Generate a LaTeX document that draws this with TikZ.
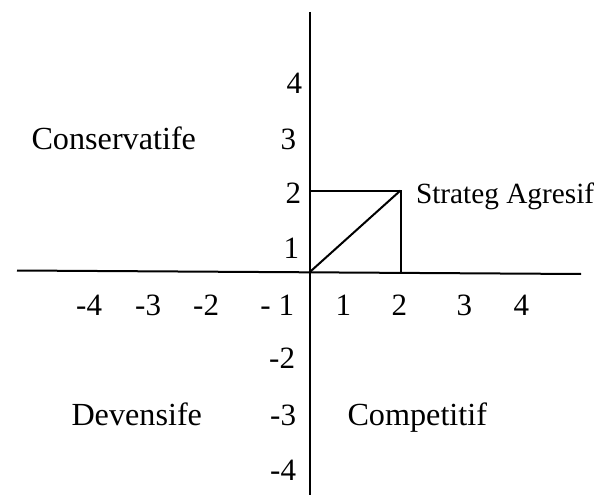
\documentclass[tikz,border=0pt]{standalone}
\usepackage{fontspec}
\setmainfont{Liberation Serif}
\begin{document}
\begin{tikzpicture}[x=1pt,y=-1pt,line width=2pt,
  num/.style={font=\fontsize{31}{31}\selectfont,inner sep=0pt,anchor=base east},
  quadlbl/.style={font=\fontsize{32.2}{33}\selectfont,inner sep=0pt,anchor=base west},
  smalllbl/.style={font=\fontsize{29.3}{30}\selectfont,inner sep=0pt,anchor=base west}]
\useasboundingbox (0,0) rectangle (611,495);
% axes
\coordinate (top) at (309.5,12);
\coordinate (bot) at (309.5,495);
\coordinate (left) at (17,270.5);
\coordinate (right) at (581,274);
\coordinate (O) at (309.5,272.3);
\coordinate (P) at (400.5,190.5);
\coordinate (Pl) at (309.5,190.5);
\coordinate (Pb) at (400.5,273);
\draw (top) -- (bot);
\draw (left) -- (right);
\draw (Pl) -- (P) -- (Pb);
\draw (O) -- (P);
% vertical scale
\node[num] (v4) at (303,94) {4};
\node[num] (v3) at (297,149) {3};
\node[num] (v2) at (302,203) {2};
\node[num] (v1) at (300,258) {1};
\node[num] (vm2) at (296,368) {-2};
\node[num] (vm3) at (297,425) {-3};
\node[num] (vm4) at (297,480) {-4};
% horizontal scale
\node[num] (hm4) at (103,315) {-4};
\node[num] (hm3) at (162,315) {-3};
\node[num] (hm2) at (220,315) {-2};
\node[num] (hm1) at (295,315) {- 1};
\node[num] (h1) at (352,315) {1};
\node[num] (h2) at (408,315) {2};
\node[num] (h3) at (473,315) {3};
\node[num] (h4) at (530,315) {4};
% labels
\node[quadlbl] (cons) at (30.5,149) {Conservatife};
\node[quadlbl] (dev) at (70.5,425) {Devensife};
\node[quadlbl] (comp) at (346.5,425) {Competitif};
\node[smalllbl] (agr) at (415,203) {Strateg Agresif};
\end{tikzpicture}
\end{document}
